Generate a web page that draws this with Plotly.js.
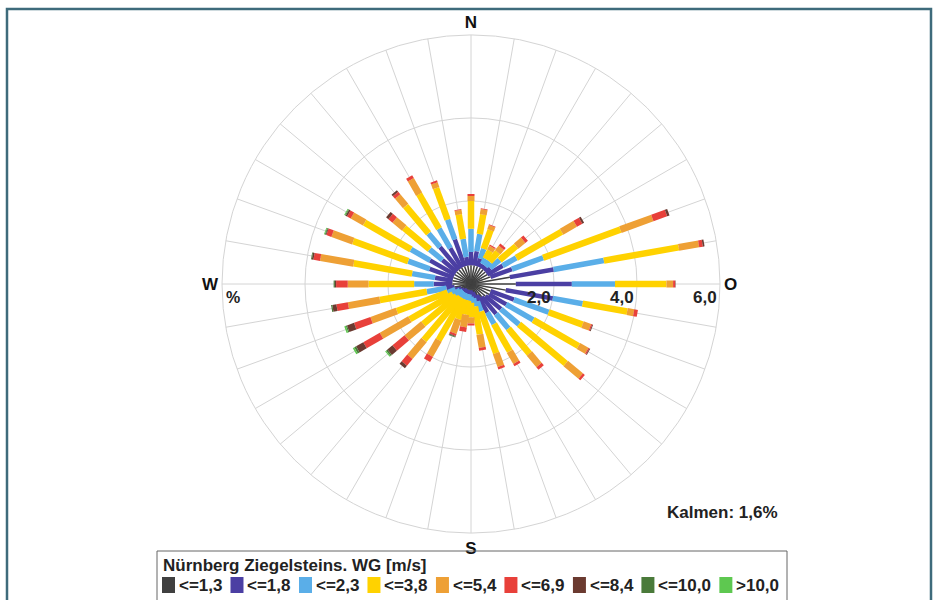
<!DOCTYPE html>
<html><head><meta charset="utf-8">
<script src="https://cdn.plot.ly/plotly-3.0.1.min.js"></script>
<style>html,body{margin:0;padding:0;background:#fff}#chart{width:938px;height:600px}</style>
</head><body><div id="chart"></div>
<script>
// ---------- data ----------
const directions = [0,10,20,30,40,50,60,70,80,90,100,110,120,130,140,150,160,170,180,190,200,210,220,230,240,250,260,270,280,290,300,310,320,330,340,350];
const compassLabels = {0:'N', 90:'O', 180:'S', 270:'W'};
const stationTitle = 'Nürnberg Ziegelsteins. WG [m/s]';
const calmPercent = 1.6;
const radialTicks = [2, 4, 6];
const radialMax = 6;
const speedClasses = ['<=1,3','<=1,8','<=2,3','<=3,8','<=5,4','<=6,9','<=8,4','<=10,0','>10,0'];
const classColors = ['#404040','#4b3fa3','#5aaee8','#ffd200','#eea035','#e8403a','#6b3a30','#4a7a3a','#5ec850'];

// frequency in % per direction (0°..350°) for each speed class
const f_le13  = [0.45,0.45,0.45,0.45,0.45,0.45,0.45,0.50,0.95,1.08,0.85,0.50,0.50,0.45,0.40,0.30,0.20,0.15,0.15,0.15,0.15,0.15,0.15,0.15,0.20,0.25,0.40,0.45,0.45,0.45,0.45,0.45,0.45,0.45,0.45,0.45];
const f_le18  = [0.32,0.35,0.20,0.10,0.10,0.15,0.43,0.55,1.07,1.35,1.15,0.60,0.48,0.49,0.54,0.49,0.25,0.20,0.15,0.10,0.10,0.10,0.10,0.10,0.10,0.15,0.20,0.45,0.43,0.61,0.69,0.45,0.71,0.55,0.69,0.21];
const f_le23  = [0.56,0.42,0.25,0.15,0.15,0.30,0.38,0.80,1.23,1.04,0.73,0.89,0.75,0.57,0.46,0.32,0.25,0.20,0.15,0.15,0.15,0.15,0.15,0.20,0.20,0.20,0.48,0.47,0.56,0.55,0.53,0.40,0.43,0.54,0.51,0.44];
const f_le38  = [0.67,0.48,0.48,0.22,0.30,0.52,1.26,1.98,1.83,1.24,1.09,0.87,1.26,1.47,0.79,0.76,1.07,0.68,0.35,0.35,0.50,1.16,1.36,1.05,1.20,1.30,1.15,1.10,1.43,1.41,1.29,0.80,0.86,0.96,0.81,0.60];
const f_le54  = [0.12,0.12,0.10,0.10,0.14,0.22,0.38,0.82,0.49,0.16,0.16,0.19,0.23,0.47,0.36,0.31,0.33,0.32,0.15,0.30,0.35,0.42,0.53,0.52,0.79,0.65,0.77,0.50,0.81,0.53,0.34,0.30,0.30,0.40,0.12,0.10];
const f_le69  = [0.05,0.02,0.02,0.03,0.06,0.08,0.15,0.35,0.09,0.05,0.09,0.03,0.03,0.06,0.08,0.06,0.06,0.07,0.05,0.11,0.05,0.14,0.21,0.38,0.46,0.42,0.28,0.28,0.16,0.13,0.10,0.13,0.08,0.08,0.05,0.02];
const f_le84  = [0,0,0,0,0,0,0.05,0.06,0.04,0.01,0,0.02,0.02,0,0,0,0,0,0,0,0.02,0,0.08,0.16,0.20,0.18,0.10,0.03,0.04,0.02,0.04,0.07,0.05,0,0,0];
const f_le100 = [0,0,0,0,0,0,0,0,0,0,0,0,0,0,0,0,0,0,0,0,0.02,0,0,0.04,0.05,0.03,0.03,0.03,0.02,0.02,0.02,0,0,0,0,0];
const f_gt100 = [0,0,0,0,0,0,0,0,0,0,0,0,0,0,0,0,0,0,0,0,0,0,0,0.03,0.04,0.04,0,0,0,0.02,0.02,0,0,0,0,0];
const classValues = [f_le13,f_le18,f_le23,f_le38,f_le54,f_le69,f_le84,f_le100,f_gt100];

// ---------- geometry / style ----------
const W = 938, H = 600;
const cx = 471, cy = 284, R = 249;
const px = x => x / W, py = y => 1 - y / H;
const FONT = 'Arial, "Liberation Sans", sans-serif';
const fmt = v => v.toFixed(1).replace('.', ',');
const segWidths = [1.5, 4.5, 5.5, 6.5, 7, 7, 7, 7, 7];

// ---------- traces: stacked radial segments ----------
const traces = [];
const cum = directions.map(() => 0);
classValues.forEach((vals, k) => {
  const r = [], th = [];
  directions.forEach((d, i) => {
    if (vals[i] > 0) { r.push(cum[i], cum[i] + vals[i], null); th.push(d, d, null); }
    cum[i] += vals[i];
  });
  traces.push({
    type: 'scatterpolar', mode: 'lines', r: r, theta: th, name: speedClasses[k],
    line: {color: classColors[k], width: segWidths[k]},
    connectgaps: false, showlegend: false, hoverinfo: 'skip'
  });
});
// draw the innermost class on top so the dark centre star stays visible
traces.push(traces.shift());

// ---------- texts and manual legend ----------
const shapes = [{type:'rect', xref:'paper', yref:'paper', x0:px(7), x1:px(931), y0:py(9), y1:-0.2,
                 line:{color:'#3e6b7b', width:2.5}, fillcolor:'rgba(0,0,0,0)'},
                {type:'rect', xref:'paper', yref:'paper', x0:px(157), x1:px(787), y0:py(551), y1:-0.2,
                 line:{color:'#666', width:1}, fillcolor:'rgba(0,0,0,0)'}];
const annotations = [
  {text:'%', x:px(224), y:py(297), xref:'paper', yref:'paper', xanchor:'left', yanchor:'middle', showarrow:false,
   font:{family:FONT, size:16, color:'#222', weight:'bold'}},
  {text:'Kalmen: ' + fmt(calmPercent) + '%', x:px(722), y:py(512), xref:'paper', yref:'paper',
   xanchor:'center', yanchor:'middle', showarrow:false, font:{family:FONT, size:17, color:'#222', weight:'bold'}},
  {text:stationTitle, x:px(161), y:py(565), xref:'paper', yref:'paper', xanchor:'left', yanchor:'middle', showarrow:false,
   font:{family:FONT, size:17, color:'#222', weight:'bold'}}
];
// radial tick labels: just inside each ring, below the east spoke
radialTicks.forEach(v => {
  annotations.push({text: fmt(v), x: px(cx + v / radialMax * R - 1), y: py(cy + 13), xref:'paper', yref:'paper',
                    xanchor:'right', yanchor:'middle', showarrow:false,
                    font:{family:FONT, size:17, color:'#222', weight:'bold'}});
});
const ctx = document.createElement('canvas').getContext('2d');
ctx.font = 'bold 17px "Liberation Sans", Arial';
let lx = 162;
speedClasses.forEach((lab, k) => {
  shapes.push({type:'rect', xref:'paper', yref:'paper', x0:px(lx), x1:px(lx + 13), y0:py(577), y1:py(593),
               line:{width:0}, fillcolor:classColors[k]});
  annotations.push({text:lab, x:px(lx + 15), y:py(585), xref:'paper', yref:'paper', xanchor:'left', yanchor:'middle',
                    showarrow:false, font:{family:FONT, size:17, color:'#222', weight:'bold'}});
  lx += 15 + ctx.measureText(lab).width + 10;
});

const layout = {
  width: W, height: H, margin: {l:0, r:0, t:0, b:0}, paper_bgcolor: '#fff',
  separators: ',.', showlegend: false,
  polar: {
    domain: {x: [px(cx - R), px(cx + R)], y: [py(cy + R), py(cy - R)]},
    bgcolor: '#fff',
    radialaxis: {range: [0, radialMax], tickmode: 'array', tickvals: radialTicks, showticklabels: false, angle: 0,
                 showline: false, ticks: '', gridcolor: '#d4d4d4', gridwidth: 1},
    angularaxis: {rotation: 90, direction: 'clockwise', tickmode: 'array', tickvals: directions,
                  ticktext: directions.map(d => compassLabels[d] || ''), ticks: '', ticklen: 0, showline: true,
                  linecolor: '#d4d4d4', gridcolor: '#d4d4d4', gridwidth: 1,
                  tickfont: {family: FONT, size: 17, color: '#111', weight: 'bold'}}
  },
  shapes: shapes, annotations: annotations
};
Plotly.newPlot('chart', traces, layout, {displayModeBar: false, staticPlot: true});
</script></body></html>
